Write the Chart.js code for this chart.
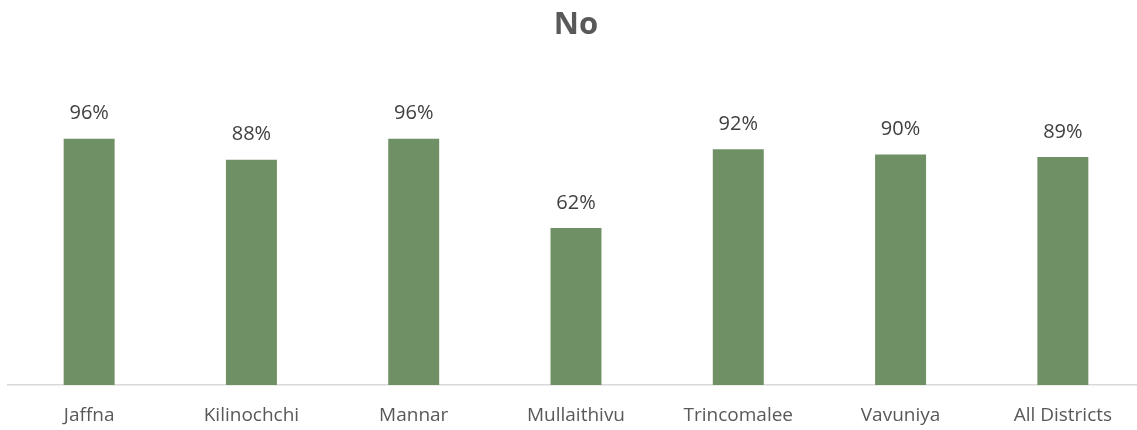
<!DOCTYPE html>
<html>
<head>
<meta charset="utf-8">
<script src="https://cdn.jsdelivr.net/npm/chart.js@4/dist/chart.umd.min.js"></script>
<style>
  html, body { margin: 0; padding: 0; background: #fff; overflow: hidden; }
  #wrap { width: 1152px; height: 430px; }
</style>
</head>
<body>
<div id="wrap"><canvas id="chart"></canvas></div>
<script>
const districts = ['Jaffna', 'Kilinochchi', 'Mannar', 'Mullaithivu', 'Trincomalee', 'Vavuniya', 'All Districts'];
const noValues = [96, 88, 96, 62, 92, 90, 89];

const fontFamily = '"Open Sans", "Liberation Sans", sans-serif';

// draws the percent labels above each bar
const valueLabels = {
  id: 'valueLabels',
  afterDatasetsDraw(chart) {
    const ctx = chart.ctx;
    const meta = chart.getDatasetMeta(0);
    ctx.save();
    ctx.font = '20px ' + fontFamily;
    ctx.fillStyle = '#404040';
    ctx.textAlign = 'center';
    ctx.textBaseline = 'middle';
    meta.data.forEach((bar, i) => {
      ctx.fillText(noValues[i] + '%', bar.x, bar.y - 25);
    });
    ctx.restore();
  }
};

new Chart(document.getElementById('chart'), {
  type: 'bar',
  data: {
    labels: districts,
    datasets: [{
      label: 'No',
      data: noValues,
      backgroundColor: '#6F9065',
      categoryPercentage: 1,
      barPercentage: 0.314
    }]
  },
  options: {
    responsive: true,
    maintainAspectRatio: false,
    animation: false,
    layout: { padding: { left: 8, right: 8, top: 0, bottom: 4 } },
    plugins: {
      legend: { display: false },
      tooltip: { enabled: false },
      title: {
        display: true,
        text: 'No',
        color: '#595959',
        font: { family: fontFamily, size: 31, weight: 'bold' },
        padding: { top: 7, bottom: 84 }
      }
    },
    scales: {
      x: {
        grid: { display: false, drawTicks: false },
        border: { color: '#D9D9D9', width: 1.5 },
        ticks: {
          color: '#595959',
          padding: 19,
          font: { family: fontFamily, size: 19 }
        },
        afterFit(scale) { scale.height = 41; }
      },
      y: {
        display: false,
        min: 2.3,
        max: 100
      }
    }
  },
  plugins: [valueLabels]
});
</script>
</body>
</html>
